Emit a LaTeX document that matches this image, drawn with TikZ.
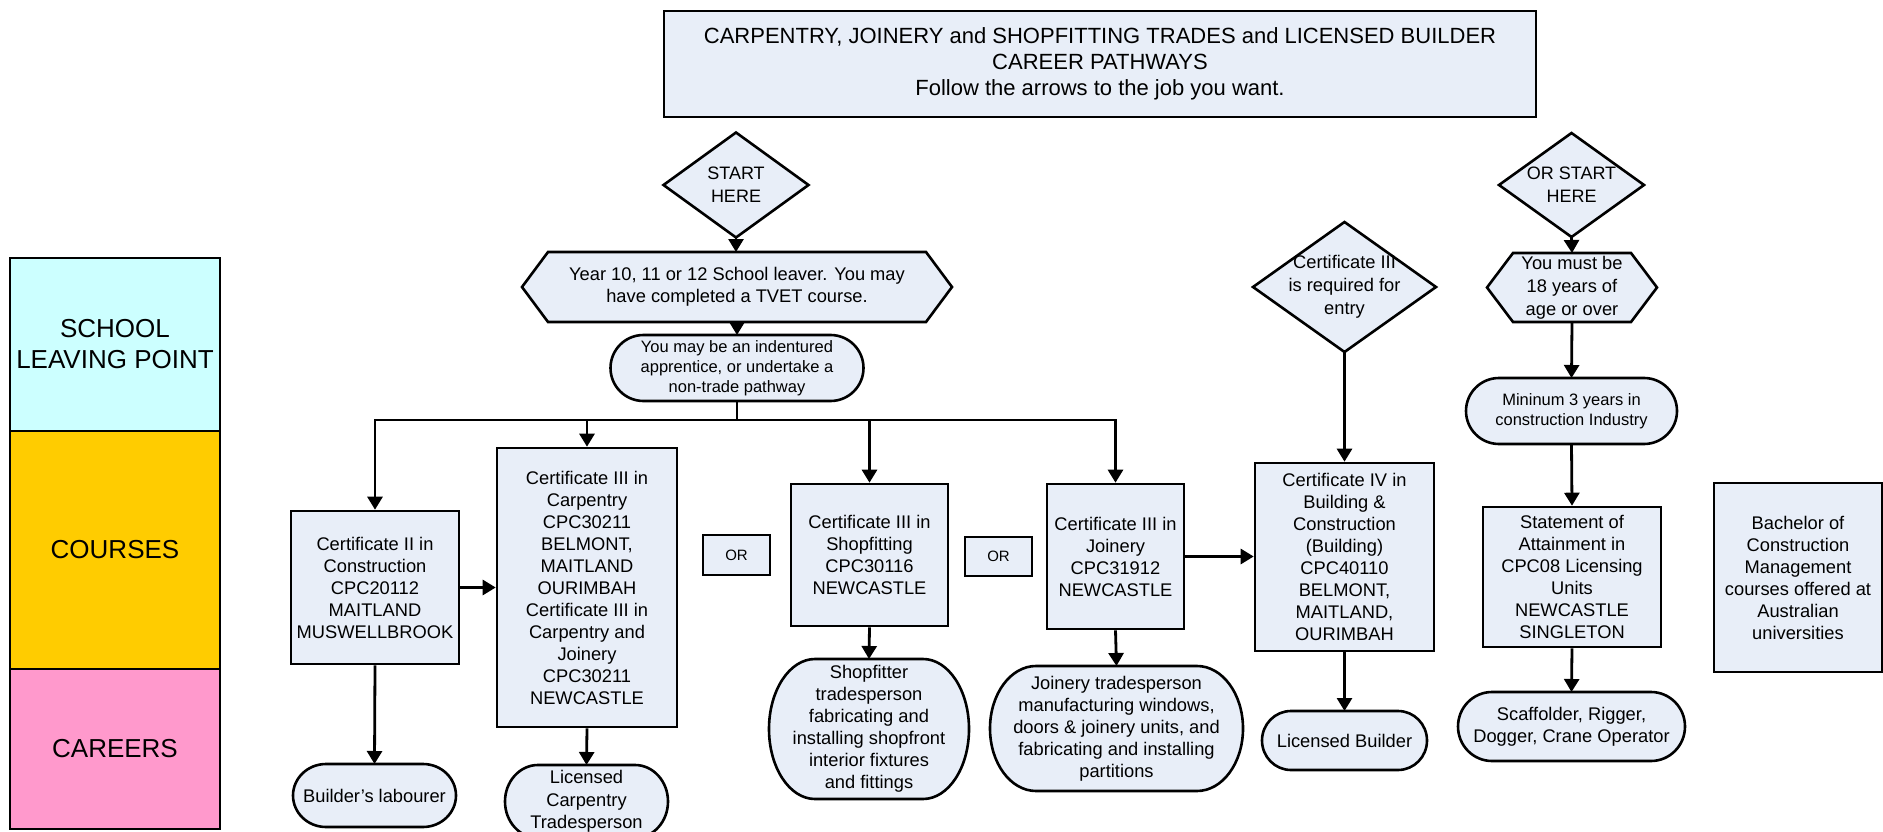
\documentclass[tikz,border=0pt]{standalone}
\usepackage{fontspec}
\setmainfont{Liberation Sans}
\usetikzlibrary{arrows.meta,calc}
\definecolor{boxfill}{RGB}{232,238,248}
\definecolor{lanecyan}{RGB}{204,255,255}
\definecolor{laneyellow}{RGB}{255,204,0}
\definecolor{lanepink}{RGB}{255,153,204}
\pgfdeclarelayer{bg}
\pgfdeclarelayer{shapes}
\pgfsetlayers{bg,shapes,main}
\newcommand\fnt[2]{\fontsize{#1}{#2}\selectfont}
\tikzset{
  every node/.style={font=\fnt{18.3}{22}, align=center, inner sep=0pt, outer sep=0pt},
  rectbox/.style={draw=black, line width=2.6pt, fill=boxfill, outer sep=1.3pt},
  ghost/.style={draw=none},
  outline/.style={draw=black, line width=2.6pt, fill=boxfill, line join=miter},
  lane/.style={draw=black, line width=2.6pt, font=\fnt{26}{31}},
  conn/.style={draw=black, line width=2.8pt},
  arr/.style={conn, -{Triangle[width=15pt,length=13pt]}},
}
\newcommand\diamondout[1]{\path[outline] (#1.north) -- (#1.east) -- (#1.south) -- (#1.west) -- cycle;}
\newcommand\hexout[2]{\path[outline] (#1.west) -- ([xshift=#2]#1.north west) -- ([xshift=-#2]#1.north east) -- (#1.east) -- ([xshift=-#2]#1.south east) -- ([xshift=#2]#1.south west) -- cycle;}
\newcommand\termout[2]{\path[outline] let \p1=(#1.north west), \p2=(#1.south east), \n1={(\y1-\y2)/2} in (\x1+#2pt,\y1) -- (\x2-#2pt,\y1) arc[start angle=90,end angle=-90,x radius=#2pt,y radius=\n1] -- (\x1+#2pt,\y2) arc[start angle=270,end angle=90,x radius=#2pt,y radius=\n1] -- cycle;}
\begin{document}
\begin{tikzpicture}[x=1pt,y=1pt]
\useasboundingbox (0,0) rectangle (1883,-832);
\begin{pgfonlayer}{bg}
\fill[white] (0,0) rectangle (1883,-832);
\end{pgfonlayer}

% title
\node[rectbox, minimum width=872pt, minimum height=106pt, font=\fnt{22}{26}] (title) at (1100,-64)
  {CARPENTRY, JOINERY and SHOPFITTING TRADES and LICENSED BUILDER\\CAREER PATHWAYS\\Follow the arrows to the job you want.};

% lanes
\node[lane, fill=lanecyan, minimum width=210pt, minimum height=173pt] (school) at (115,-344.5) {SCHOOL\\LEAVING POINT};
\node[lane, fill=laneyellow, minimum width=210pt, minimum height=238pt] (courses) at (115,-550) {COURSES};
\node[lane, fill=lanepink, minimum width=210pt, minimum height=160pt] (careers) at (115,-749) {CAREERS};

% left start
\node[ghost, minimum width=145pt, minimum height=105pt, font=\fnt{18}{23}] (start) at (736,-185) {START\\HERE};
\node[ghost, minimum width=430pt, minimum height=70pt] (year) at (737,-287) {Year 10, 11 or 12 School leaver. You may\\have completed a TVET course.};
\node[ghost, minimum width=253pt, minimum height=66pt, font=\fnt{16.5}{20}] (may) at (737,-368) {You may be an indentured\\apprentice, or undertake a\\non-trade pathway};
\coordinate (bar) at (737,-420);

% courses
\node[rectbox, minimum width=168pt, minimum height=153pt] (cert2) at (375,-587.5) {Certificate II in\\Construction\\CPC20112\\MAITLAND\\MUSWELLBROOK};
\node[rectbox, minimum width=180pt, minimum height=279pt] (cert3c) at (587,-587.5) {Certificate III in\\Carpentry\\CPC30211\\BELMONT,\\MAITLAND\\OURIMBAH\\Certificate III in\\Carpentry and\\Joinery\\CPC30211\\NEWCASTLE};
\node[rectbox, minimum width=67pt, minimum height=40pt, font=\fnt{15}{18}] (or1) at (736.5,-555) {OR};
\node[rectbox, minimum width=157pt, minimum height=142pt] (shop) at (869.5,-555) {Certificate III in\\Shopfitting\\CPC30116\\NEWCASTLE};
\node[rectbox, minimum width=67pt, minimum height=39pt, font=\fnt{15}{18}] (or2) at (998.5,-556.5) {OR};
\node[rectbox, minimum width=137pt, minimum height=145pt] (join) at (1115.5,-556.5) {Certificate III in\\Joinery\\CPC31912\\NEWCASTLE};
\node[rectbox, minimum width=179pt, minimum height=188pt] (cert4) at (1344.5,-557) {Certificate IV in\\Building \&\\Construction\\(Building)\\CPC40110\\BELMONT,\\MAITLAND,\\OURIMBAH};
\node[rectbox, minimum width=178pt, minimum height=140pt] (stmt) at (1572,-577) {Statement of\\Attainment in\\CPC08 Licensing\\Units\\NEWCASTLE\\SINGLETON};
\node[rectbox, minimum width=168pt, minimum height=189pt] (bach) at (1798,-577.5) {Bachelor of\\Construction\\Management\\courses offered at\\Australian\\universities};

% right start
\node[ghost, minimum width=183pt, minimum height=130pt, font=\fnt{18.3}{23}] (req) at (1344.5,-287) {Certificate III\\is required for\\entry};
\node[ghost, minimum width=145pt, minimum height=104pt, font=\fnt{18}{23}] (orstart) at (1571.5,-185) {OR START\\HERE};
\node[ghost, minimum width=170pt, minimum height=69pt, font=\fnt{18.3}{23}] (must) at (1572,-287.5) {You must be\\18 years of\\age or over};
\node[ghost, minimum width=211pt, minimum height=66pt, font=\fnt{16.5}{20}] (min) at (1571.5,-411) {Mininum 3 years in\\construction Industry};

% careers
\node[ghost, minimum width=163pt, minimum height=63pt] (lab) at (374.5,-795.5) {Builder's labourer};
\node[ghost, minimum width=163pt, minimum height=73pt, font=\fnt{18.3}{22.5}] (lct) at (586.5,-801.5) {Licensed\\Carpentry\\Tradesperson};
\node[ghost, minimum width=200pt, minimum height=140pt] (shopfitter) at (869,-729) {Shopfitter\\tradesperson\\fabricating and\\installing shopfront\\interior fixtures\\and fittings};
\node[ghost, minimum width=253pt, minimum height=125pt] (jointrade) at (1116.5,-728.5) {Joinery tradesperson\\manufacturing windows,\\doors \& joinery units, and\\fabricating and installing\\partitions};
\node[ghost, minimum width=165pt, minimum height=59pt] (licb) at (1344.5,-740.5) {Licensed Builder};
\node[ghost, minimum width=227pt, minimum height=69pt] (scaff) at (1571.5,-726.5) {Scaffolder, Rigger,\\Dogger, Crane Operator};

\begin{pgfonlayer}{shapes}
\diamondout{start}
\diamondout{req}
\diamondout{orstart}
\hexout{year}{26pt}
\hexout{must}{26pt}
\termout{may}{33}
\termout{min}{33}
\termout{lab}{33}
\termout{lct}{33}
\termout{shopfitter}{46}
\termout{jointrade}{46}
\termout{licb}{29}
\termout{scaff}{34}
\end{pgfonlayer}

% connectors
\draw[arr] (start.south) -- (start.south |- year.north);
\draw[arr] (year.south) -- (may.north);
\draw[conn] (may.south) -- (bar);
\draw[arr] (bar) -| (cert2.north);
\draw[arr] (bar) -| (join.north);
\draw[arr] (cert3c.north |- bar) -- (cert3c.north);
\draw[arr] (shop.north |- bar) -- (shop.north);
\draw[arr] (cert2.east) -- (cert2.east -| cert3c.west);
\draw[arr] (join.east) -- (join.east -| cert4.west);
\draw[arr] (cert2.south) -- (lab.north);
\draw[arr] (cert3c.south) -- (lct.north);
\draw[arr] (shop.south) -- (shopfitter.north);
\draw[arr] (join.south) -- (jointrade.north);
\draw[arr] (req.south) -- (cert4.north);
\draw[arr] (cert4.south) -- (licb.north);
\draw[arr] (orstart.south) -- (must.north);
\draw[arr] (must.south) -- (min.north);
\draw[arr] (min.south) -- (stmt.north);
\draw[arr] (stmt.south) -- (scaff.north);
\end{tikzpicture}
\end{document}
